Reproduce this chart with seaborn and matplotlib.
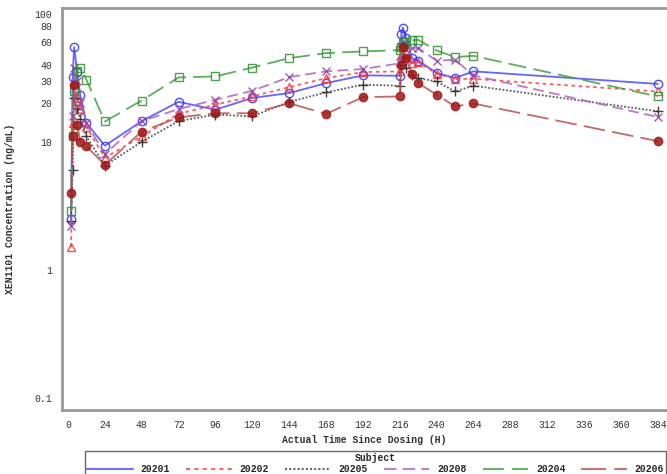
import numpy as np
import pandas as pd
import matplotlib
matplotlib.use("Agg")
import matplotlib.pyplot as plt
from matplotlib.lines import Line2D
from matplotlib.ticker import FixedLocator, NullFormatter
import seaborn as sns

# Sampling times (hours after first dose)
hours = [2, 3, 4, 6, 8, 12, 24, 48, 72, 96, 120, 144, 168, 192, 216,
         217, 218, 220, 224, 228, 240, 252, 264, 384]

subjects = ["20201", "20202", "20205", "20208", "20204", "20206"]

conc_20201 = [2.5, 32, 55, 35, 23, 14, 9.3, 14.5, 20.5, 17.8, 22, 24, 28.7, 33,
              32.8, 70, 78, 65, 45, 43, 34.5, 31.5, 35.5, 28.3]
conc_20202 = [1.5, 14, 29, 22, 18, 13, 7.5, 11, 16.5, 19.5, 22.6, 26.7, 31.4, 35,
              35.5, 48, 55, 50, 41, 42, 34, 31, 31, 24.7]
conc_20205 = [2.4, 6, 22, 18, 15, 11, 6.5, 10, 14.5, 16.3, 15.8, 20.5, 24.3, 27.9,
              27.4, 40, 45, 38, 33, 31.4, 29.6, 24.7, 27.4, 17.3]
conc_20208 = [2.2, 16, 38, 30, 20, 14, 8, 14.5, 18, 21.3, 25, 32, 35.5, 37,
              41, 55, 60, 57, 54, 53.9, 43, 43.7, 33, 15.6]
conc_20204 = [2.9, 11, 25, 36, 37.6, 30.5, 14.4, 21, 31.8, 32.4, 38, 45, 49.3, 50.8,
              52, 55, 60, 60.6, 62, 62.6, 51.7, 45.9, 46.9, 22.6]
conc_20206 = [4.0, 11, 27.9, 13.5, 10, 9.2, 6.6, 12, 15.5, 16.7, 16.7, 20, 16.5, 22.3,
              22.6, 40, 55, 45, 34, 28.7, 23.3, 18.9, 19.9, 10.1]

series = [conc_20201, conc_20202, conc_20205, conc_20208, conc_20204, conc_20206]

df = pd.concat(
    [pd.DataFrame({"Hour": hours, "Conc": vals, "Subject": s})
     for s, vals in zip(subjects, series)],
    ignore_index=True,
)

styles = {
    "20201": dict(color="#4a4aff", mec="#3030ff", mfc="none", marker="o", dashes=None, ms=6),
    "20202": dict(color="#ff4040", mec="#ff3030", mfc="none", marker="^", dashes=(2, 2), ms=6),
    "20205": dict(color="#404040", mec="#202020", mfc="none", marker="+", dashes=(1, 1), ms=7),
    "20208": dict(color="#b060c0", mec="#9040a8", mfc="none", marker="x", dashes=(6, 3), ms=6),
    "20204": dict(color="#40a040", mec="#309030", mfc="none", marker="s", dashes=(10, 4), ms=6),
    "20206": dict(color="#b85050", mec="#a01818", mfc="#a01818", marker="o", dashes=(12, 4), ms=6),
}

sns.set_style("white")
mono = ["Liberation Mono", "DejaVu Sans Mono"]
plt.rcParams["font.family"] = mono

fig = plt.figure(figsize=(6.67, 4.74), dpi=100)
ax = fig.add_axes([62 / 667, 1 - 410 / 474, (667 - 62) / 667, (410 - 8) / 474])

for s in subjects:
    st = styles[s]
    sub = df[df["Subject"] == s]
    kw = dict(color=st["color"], marker=st["marker"], markersize=st["ms"],
              markeredgecolor=st["mec"], markerfacecolor=st["mfc"],
              markeredgewidth=1.0, linewidth=1.3, alpha=0.85)
    if st["dashes"] is not None:
        kw["dashes"] = st["dashes"]
    sns.lineplot(data=sub, x="Hour", y="Conc", ax=ax, estimator=None,
                 sort=False, legend=False, **kw)

ax.set_yscale("log")
ax.set_xlim(-3.9, 390)
ax.set_ylim(0.08, 111)

xt = list(range(0, 385, 24))
ax.xaxis.set_major_locator(FixedLocator(xt))
ax.set_xticklabels([str(v) for v in xt])
ymaj = [0.1, 1, 10, 20, 30, 40, 60, 80, 100]
ax.yaxis.set_major_locator(FixedLocator(ymaj))
ax.set_yticklabels(["0.1", "1", "10", "20", "30", "40", "60", "80", "100"])
ax.yaxis.set_minor_locator(FixedLocator([50, 70, 90]))
ax.yaxis.set_minor_formatter(NullFormatter())

ax.tick_params(axis="both", which="both", direction="out", length=4, width=1,
               color="#555555", labelsize=7, labelcolor="#333333", pad=3)

for side in ["left", "top", "bottom"]:
    ax.spines[side].set_color("#999999")
    ax.spines[side].set_linewidth(2)
ax.spines["right"].set_visible(False)

ax.set_xlabel("Actual Time Since Dosing (H)", fontsize=7, color="#333333",
              fontweight="bold", labelpad=4)
ax.set_ylabel("XEN1101 Concentration (ng/mL)", fontsize=7, color="#333333",
              fontweight="bold", labelpad=14)

handles = []
for s in subjects:
    st = styles[s]
    h = Line2D([0], [0], color=st["color"], linewidth=1.5, alpha=0.8)
    if st["dashes"] is not None:
        h.set_dashes(st["dashes"])
    handles.append(h)

leg = fig.legend(handles, subjects, title="Subject", ncol=6,
                 loc="upper left", bbox_to_anchor=(85 / 667, 1 - 451 / 474),
                 fontsize=7, title_fontsize=7, frameon=True, fancybox=False,
                 handlelength=4.7, columnspacing=1.65, handletextpad=0.8,
                 borderpad=0.2, labelspacing=0.1, borderaxespad=0)
leg.get_frame().set_edgecolor("#444444")
leg.get_frame().set_linewidth(1)
leg.get_title().set_fontweight("bold")
for t in leg.get_texts():
    t.set_fontweight("bold")

fig.savefig("out.png", dpi=100)
